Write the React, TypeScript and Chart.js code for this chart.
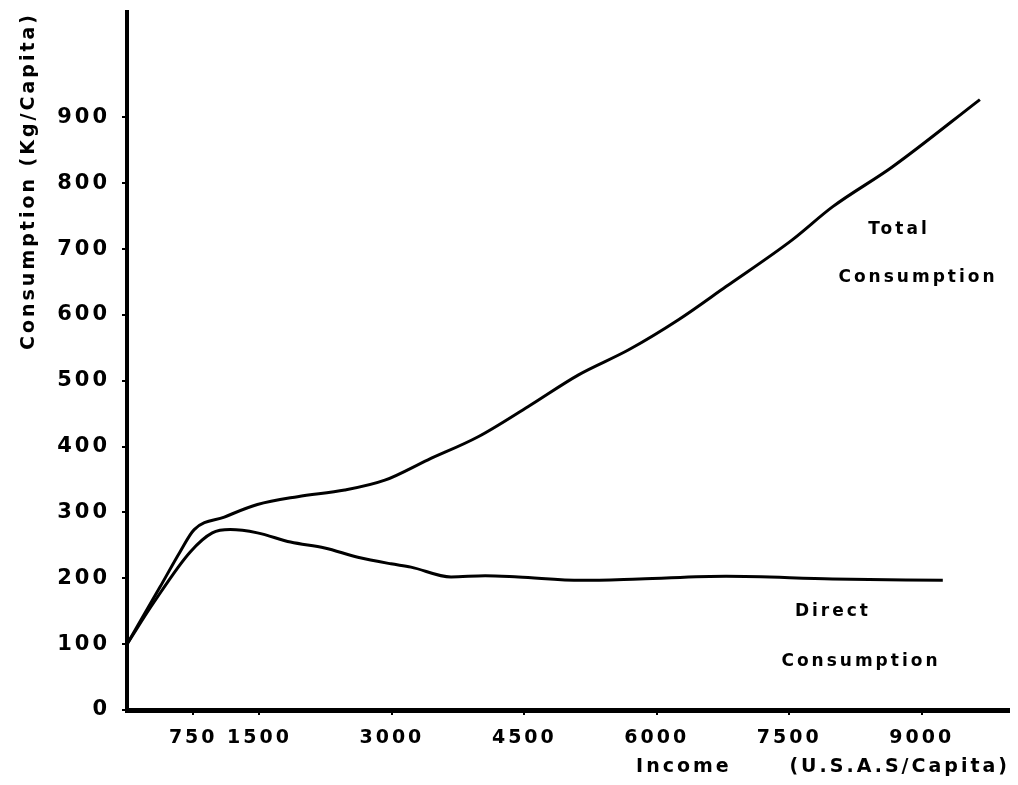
import React, { useEffect, useRef } from "react";
import { Chart, registerables } from "chart.js";

Chart.register(...registerables);

const xTicks = [750, 1500, 3000, 4500, 6000, 7500, 9000];
const yTicks = [0, 100, 200, 300, 400, 500, 600, 700, 800, 900];

const totalIncome = [0, 375, 600, 761, 1102, 1477, 1932, 2466, 2920, 3409, 3977, 4545, 5114, 5682, 6250, 6784, 7534, 7989, 8670, 9659];
const totalValues = [100, 187, 240, 274, 293, 312, 324, 334, 349, 380, 415, 461, 509, 547, 593, 643, 714, 764, 825, 927];

const directIncome = [0, 307, 716, 966, 1170, 1477, 1852, 2239, 2614, 2989, 3216, 3670, 4057, 4432, 5148, 5800, 6784, 7989, 9239];
const directValues = [100, 164, 240, 269, 274, 269, 255, 246, 232, 222, 217, 202, 204, 202, 197, 199, 203, 199, 197];

const curveLabels = [
  { text: "Total", x: 8743, y: 729 },
  { text: "Consumption", x: 8958, y: 657 },
  { text: "Direct", x: 7995, y: 149 },
  { text: "Consumption", x: 8312, y: 73 },
];

const FONT = "'DejaVu Sans', sans-serif";

const spacingPlugin = {
  id: "spacing",
  beforeUpdate(chart: any) {
    chart.ctx.letterSpacing = "3px";
  },
  beforeLayout(chart: any) {
    chart.ctx.letterSpacing = "3px";
  },
  beforeDraw(chart: any) {
    chart.ctx.letterSpacing = "3px";
  },
};

const labelPlugin = {
  id: "curveLabels",
  afterDatasetsDraw(chart: any) {
    const { ctx, scales } = chart;
    ctx.save();
    ctx.letterSpacing = "3px";
    ctx.font = `bold 17px ${FONT}`;
    ctx.fillStyle = "#000";
    ctx.textAlign = "center";
    ctx.textBaseline = "middle";
    for (const l of curveLabels) {
      ctx.fillText(l.text, scales.x.getPixelForValue(l.x), scales.y.getPixelForValue(l.y));
    }
    ctx.restore();
  },
};

export default function App() {
  const ref = useRef<HTMLCanvasElement | null>(null);
  useEffect(() => {
    if (!ref.current) return;
    const chart = new Chart(ref.current, {
      type: "line",
      data: {
        datasets: [
          {
            label: "Total Consumption",
            data: totalIncome.map((x, i) => ({ x, y: totalValues[i] })),
            borderColor: "#000",
            borderWidth: 3,
            pointRadius: 0,
            cubicInterpolationMode: "monotone",
            fill: false,
          },
          {
            label: "Direct Consumption",
            data: directIncome.map((x, i) => ({ x, y: directValues[i] })),
            borderColor: "#000",
            borderWidth: 3,
            pointRadius: 0,
            cubicInterpolationMode: "monotone",
            fill: false,
          },
        ],
      },
      options: {
        animation: false,
        responsive: true,
        maintainAspectRatio: false,
        layout: { padding: { top: 4, right: 0, left: 0, bottom: 0 } },
        plugins: { legend: { display: false }, tooltip: { enabled: false } },
        scales: {
          x: {
            type: "linear",
            min: 0,
            max: 10000,
            afterBuildTicks: (s: any) => {
              s.ticks = xTicks.map((v) => ({ value: v }));
            },
            afterFit: (s: any) => {
              s.height = 67;
              s.paddingLeft = 0;
              s.paddingRight = 0;
            },
            border: { display: true, color: "#000", width: 5 },
            grid: { drawOnChartArea: false, drawTicks: true, tickLength: 5, color: "#000", lineWidth: 2 },
            ticks: {
              color: "#000",
              font: { family: FONT, size: 19, weight: "bold" },
              padding: 12,
              maxRotation: 0,
              autoSkip: false,
              callback: (v: any) => String(v),
            },
            title: {
              display: true,
              text: "Income      (U.S.A.S/Capita)",
              align: "end",
              color: "#000",
              font: { family: FONT, size: 19, weight: "bold", lineHeight: 1 },
              padding: { top: 0, bottom: 0 },
            },
          },
          y: {
            type: "linear",
            min: 0,
            max: 1060,
            afterBuildTicks: (s: any) => {
              s.ticks = yTicks.map((v) => ({ value: v }));
            },
            afterFit: (s: any) => {
              s.width = 119;
              s.paddingTop = 0;
              s.paddingBottom = 0;
            },
            border: { display: true, color: "#000", width: 4 },
            grid: { drawOnChartArea: false, drawTicks: true, tickLength: 5, color: "#000", lineWidth: 2 },
            ticks: {
              color: "#000",
              font: { family: FONT, size: 21, weight: "bold" },
              padding: 12,
              autoSkip: false,
              callback: (v: any) => String(v),
            },
            title: {
              display: true,
              text: "Consumption (Kg/Capita)",
              align: "end",
              color: "#000",
              font: { family: FONT, size: 19, weight: "bold", lineHeight: 1.2 },
              padding: { top: 10, bottom: 0 },
            },
          },
        },
      } as any,
      plugins: [spacingPlugin, labelPlugin],
    });
    return () => chart.destroy();
  }, []);
  return (
    <div style={{ width: 1002, height: 769, position: "relative" }}>
      <canvas ref={ref} />
    </div>
  );
}
